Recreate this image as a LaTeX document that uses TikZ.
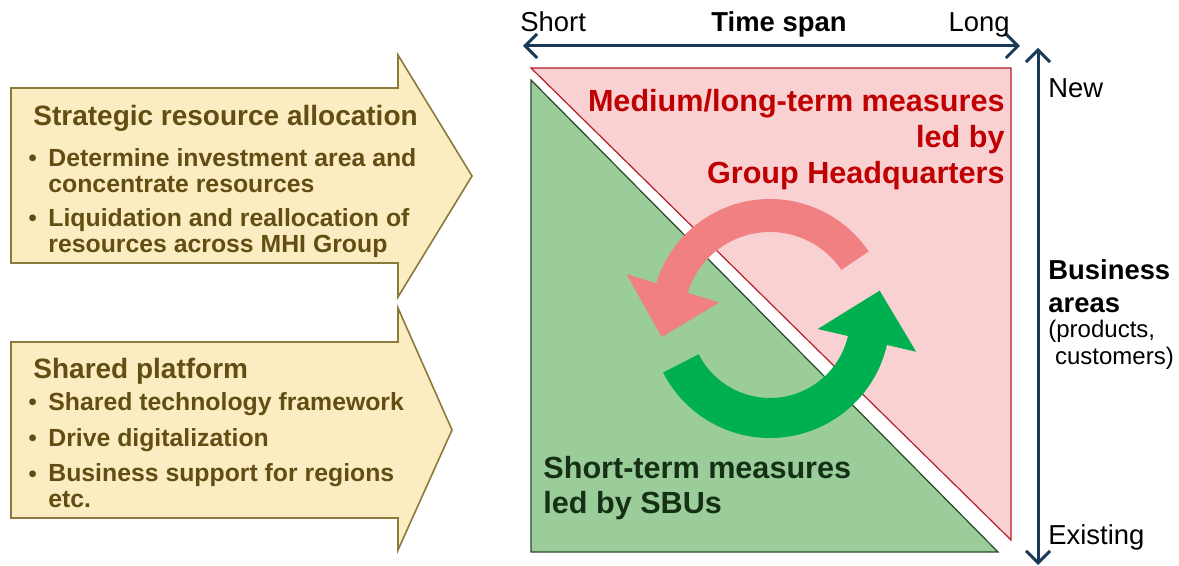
\documentclass[tikz,border=0pt]{standalone}
\usepackage{fontspec}
\setmainfont{Liberation Sans}
\usetikzlibrary{arrows.meta, positioning}

\definecolor{boxfill}{RGB}{251,236,194}
\definecolor{boxline}{RGB}{140,122,60}
\definecolor{boxtext}{RGB}{98,78,18}
\definecolor{longfill}{RGB}{249,209,211}
\definecolor{longline}{RGB}{180,30,40}
\definecolor{longtext}{RGB}{192,0,0}
\definecolor{shortfill}{RGB}{155,205,155}
\definecolor{shortline}{RGB}{40,70,40}
\definecolor{shorttext}{RGB}{22,48,22}
\definecolor{cyclered}{RGB}{240,128,130}
\definecolor{cyclegreen}{RGB}{0,176,80}
\definecolor{axisblue}{RGB}{25,58,88}

\begin{document}
\begin{tikzpicture}[x=0.5pt,y=0.5pt,>={Straight Barb[length=6pt,width=12pt]}]

	\tikzset{box arrow/.style={draw=boxline, fill=boxfill, line width=0.8pt}}
	\tikzset{box title/.style={anchor=base west, inner sep=0, text=boxtext,
			font=\bfseries\fontsize{14}{16}\selectfont}}
	\tikzset{box item/.style={anchor=base west, inner sep=0, align=left, text=boxtext,
			font=\bfseries\fontsize{12.4}{13}\selectfont}}
	\tikzset{bullet/.style={anchor=base west, inner sep=0, text=boxtext,
			font=\fontsize{12.4}{13}\selectfont}}
	\tikzset{axis/.style={<->, draw=axisblue, line width=1.5pt}}
	\tikzset{axis label/.style={inner sep=0, font=\fontsize{13.7}{18}\selectfont}}

	\useasboundingbox (0,0) rectangle (1179,566);

	% block arrows on the left
	\draw[box arrow] (11,478) -- (398,478) -- (398,511) -- (472,390) -- (398,269)
		-- (398,303) -- (11,303) -- cycle;
	\draw[box arrow] (11,224) -- (398,224) -- (398,258) -- (452,136) -- (398,16)
		-- (398,48) -- (11,48) -- cycle;

	% (multi-line nodes sit on the baseline of their last line)
	\node[box title] (alloc) at (33,440) {Strategic resource allocation};
	\node[bullet] (dot1) at (28,399) {•};
	\node[box item] (alloc1) at (48,373) {Determine investment area and\\concentrate resources};
	\node[bullet] (dot2) at (28,339) {•};
	\node[box item] (alloc2) at (48,313) {Liquidation and reallocation of\\resources across MHI Group};

	\node[box title] (shared) at (33,187) {Shared platform};
	\node[bullet] (dot3) at (28,155) {•};
	\node[box item] (shared1) at (48,155) {Shared technology framework};
	\node[bullet] (dot4) at (28,119) {•};
	\node[box item] (shared2) at (48,119) {Drive digitalization};
	\node[bullet] (dot5) at (28,83) {•};
	\node[box item] (shared3) at (48,58) {Business support for regions\\etc.};

	% the two halves of the square
	\filldraw[fill=longfill, draw=longline, line width=0.6pt]
		(531,498) -- (1011,498) -- (1011,26) -- cycle;
	\filldraw[fill=shortfill, draw=shortline, line width=0.6pt]
		(531,486) -- (531,14) -- (998,14) -- cycle;

	\node[anchor=base east, inner sep=0, align=right, text=longtext,
		font=\bfseries\fontsize{15.3}{18}\selectfont] (longterm) at (1005,382)
		{Medium/long-term measures\\led by\\Group Headquarters};
	\node[anchor=base west, inner sep=0, align=left, text=shorttext,
		font=\bfseries\fontsize{15.3}{17.5}\selectfont] (shortterm) at (543,52)
		{Short-term measures\\led by SBUs};

	% cycle arrows
	\begin{scope}[shift={(770,248)}]
		\fill[cyclered] (34:119) arc[start angle=34, end angle=163, radius=119]
			-- (163:150) -- (190:110) -- (163:53) -- (163:86)
			arc[start angle=163, end angle=34, radius=86] -- cycle;
		\fill[cyclegreen] (207:120) arc[start angle=207, end angle=347, radius=120]
			-- (347:150) -- (14:113) -- (347:49) -- (347:80)
			arc[start angle=347, end angle=207, radius=80] -- cycle;
	\end{scope}

	% axes
	\coordinate (tshort) at (523,520);
	\coordinate (tlong) at (1020,520);
	\coordinate (anew) at (1038,518);
	\coordinate (aold) at (1038,1);
	\draw[axis] (tshort) -- (tlong);
	\draw[axis] (anew) -- (aold);

	\node[axis label, anchor=base west] (short) at (520,534) {Short};
	\node[axis label, anchor=base] (span) at (779,534) {\bfseries Time span};
	\node[axis label, anchor=base east] (long) at (1010,534) {Long};

	\node[axis label, anchor=base west] (new) at (1048,468) {New};
	\node[axis label, anchor=base west, align=left,
		font=\bfseries\fontsize{13.7}{16.5}\selectfont] (areas) at (1048,253) {Business\\areas};
	\node[anchor=base west, inner sep=0, align=left,
		font=\fontsize{12}{13.5}\selectfont] (scope) at (1048,201) {(products,\\\ customers)};
	\node[axis label, anchor=base west] (old) at (1048,21) {Existing};

\end{tikzpicture}
\end{document}
